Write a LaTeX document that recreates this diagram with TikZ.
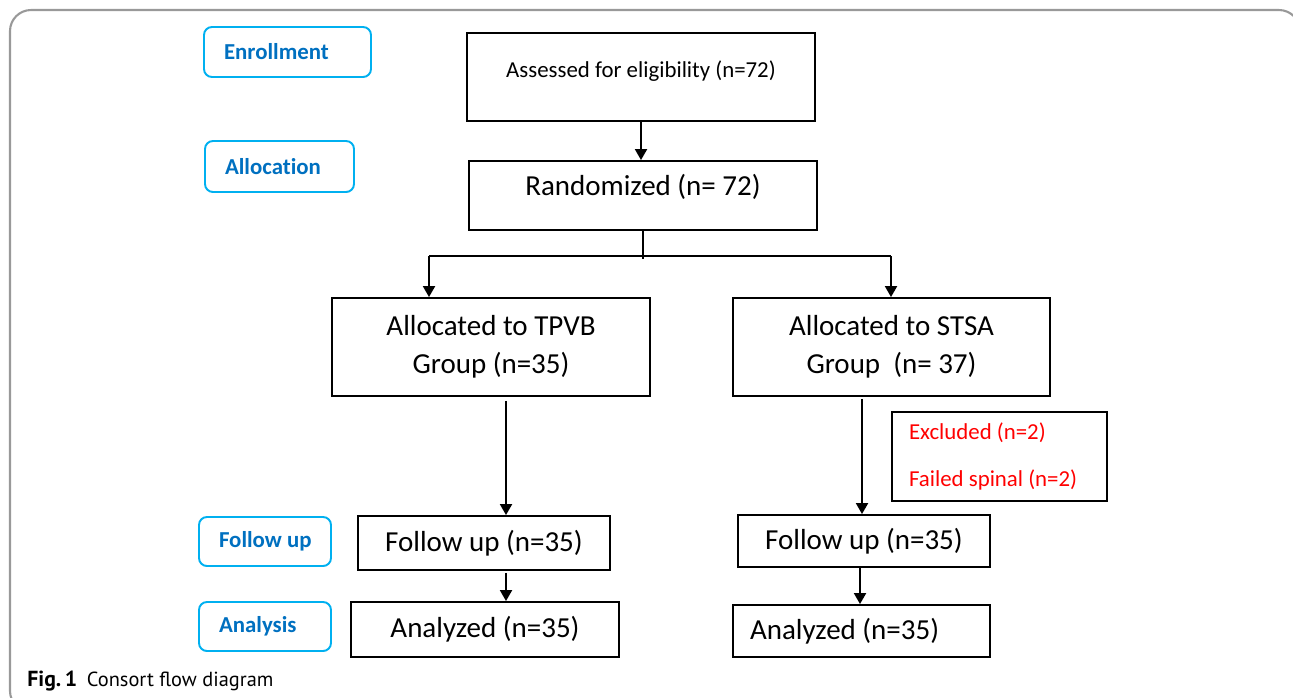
\documentclass[tikz,border=0pt]{standalone}
\usepackage{fontspec}
\setmainfont{Carlito}[Ligatures=NoCommon]
\newfontfamily\capfont{PT Sans}
\usetikzlibrary{arrows.meta,calc}
\definecolor{phaseblue}{HTML}{0070C0}
\definecolor{phaseline}{HTML}{00B0F0}

\begin{document}
\begin{tikzpicture}[
  x=0.02cm, y=-0.02cm,
  box/.style={
    draw, line width=1.1pt, minimum width=5.04cm, minimum height=1.04cm,
    align=center, font=\fontsize{16.5}{21.5}\selectfont
  },
  phase/.style={
    draw=phaseline, line width=1.1pt, rounded corners=4.5pt, text=phaseblue,
    align=left, inner xsep=0.4cm, minimum height=0.98cm,
    font=\fontsize{13}{16}\selectfont\bfseries
  },
  flow/.style={line width=1.1pt, -{Triangle[length=6.2pt,width=6.8pt]}},
  thin line/.style={line width=0.6pt},
  every node/.append style={execute at begin node={\spaceskip=0pt\xspaceskip=0pt}},
]

\useasboundingbox (0,0) rectangle (1293,697);
\begin{scope}
  \clip (0,0) rectangle (1293,697);
  \draw[gray!80, line width=1.2pt, rounded corners=12pt] (10,10) rectangle (1300,712);
\end{scope}

\node[phase, text width=2.54cm, minimum height=1.0cm] (enroll) at (287.5,52) {\mbox{Enrollment}};
\node[phase, text width=2.18cm, minimum height=1.02cm] (alloc) at (279.5,166.5) {\mbox{Allocation}};
\node[phase, text width=1.84cm] (follow) at (265,541.5) {\mbox{Follow up}};
\node[phase, text width=1.84cm] (analysis) at (265,626.5) {\mbox{Analysis}};

\node[box, minimum width=6.96cm, minimum height=1.76cm, font=\fontsize{13}{16}\selectfont,
  text height=10pt, text depth=10pt] (assess) at (641,77) {Assessed for eligibility (n=72)};
\node[box, minimum width=6.96cm, minimum height=1.38cm, text height=12pt, text depth=12pt]
  (rand) at (643,195.5) {Randomized (n= 72)};

\node[box, minimum width=6.36cm, minimum height=1.96cm] (tpvb) at (491,347)
  {Allocated to TPVB\\Group (n=35)};
\node[box, minimum width=6.34cm, minimum height=1.96cm] (stsa) at (891.5,347)
  {Allocated to STSA\\Group\ \ (n= 37)};

\node[box, minimum width=4.3cm, minimum height=1.78cm, text width=3.62cm, inner xsep=0.34cm,
  align=left, text=red, font=\fontsize{13}{16}\selectfont] (excl) at (999.5,456.5)
  {\mbox{Excluded (n=2)}\\[10.6pt]\mbox{Failed spinal (n=2)}};

\node[box, minimum height=1.08cm] (fol1) at (484,543) {Follow up (n=35)};
\node[box] (fol2) at (864,541) {Follow up (n=35)};
\node[box, minimum width=5.36cm, minimum height=1.1cm] (ana1) at (485,629.5) {Analyzed (n=35)};
\node[box, text width=4.46cm, inner xsep=0.34cm, align=left] (ana2) at (861.5,631)
  {\mbox{Analyzed (n=35)}};

\node[anchor=base west, inner sep=0pt, font=\capfont\fontsize{11.6}{14}\selectfont] (caption)
  at (27,686) {\textbf{\fontsize{12.4}{14}\selectfont Fig.\,1}\hspace{5.5pt}Consort flow diagram};

\coordinate (lsplit) at (429,256);
\coordinate (rsplit) at (891,256);
\coordinate (tdown) at ($(tpvb.south)+(15,4)$);
\coordinate (sdown) at ($(stsa.south)+(-29.5,2)$);
\coordinate (fdown) at ($(fol1.south)+(22,2)$);
\coordinate (gdown) at ($(fol2.south)+(-4,0)$);

\draw[flow] (assess.south) -- (assess.south |- rand.north);
\draw[thin line] (rand.south) -- ++(0,28);
\draw[thin line] (lsplit) -- (rsplit);
\draw[flow] (lsplit) -- (lsplit |- tpvb.north);
\draw[flow] (rsplit) -- (rsplit |- stsa.north);
\draw[flow] (tdown) -- (tdown |- fol1.north);
\draw[flow] (sdown) -- (sdown |- fol2.north);
\draw[flow] (fdown) -- (fdown |- ana1.north);
\draw[flow] (gdown) -- (gdown |- ana2.north);

\end{tikzpicture}
\end{document}
